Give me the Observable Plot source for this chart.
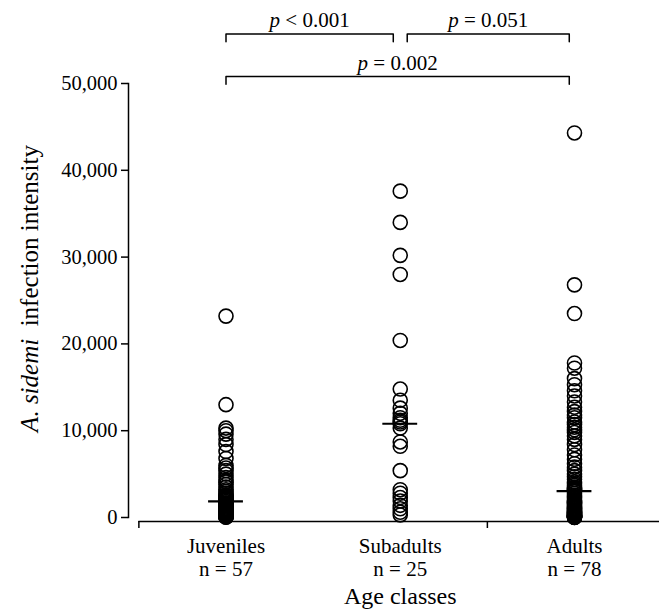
<!DOCTYPE html>
<html><head><meta charset="utf-8">
<script src="https://cdn.jsdelivr.net/npm/d3@7"></script>
<script src="https://cdn.jsdelivr.net/npm/@observablehq/plot@0.6"></script>
<style>body{margin:0;background:#fff;} svg{display:block}</style>
</head><body><div id="chart"></div>
<script>
const categories = ["Juveniles", "Subadults", "Adults"];
const categoryPositions = [1, 2, 3];
const juveniles = [23200, 13000, 10300, 10000, 9600, 9000, 8400, 7600, 6800, 6000, 5700, 5400, 5000, 4600, 4300, 4100, 3800, 3500, 3200, 3000, 2800, 2600, 2500, 2400, 2300, 2200, 2100, 2000, 1850,
  1700, 1600, 1500, 1400, 1300, 1200, 1100, 1000, 900, 800, 750, 700, 600, 550, 500, 450, 400, 350, 300, 250, 200, 180, 150, 120, 100, 80, 50, 30];
const subadults = [37600, 34000, 30200, 28000, 20400, 14800, 13500, 12600, 12000, 11500, 11200, 11000, 10800,
  10300, 8700, 8200, 5400, 3200, 2800, 2300, 1900, 1400, 1000, 600, 300];
const adults = [44300, 26800, 23500, 17800, 17200, 16000, 15300, 14600, 14000, 13300, 12700, 12200, 11800, 11500, 11000, 10700, 10400, 10100, 9800, 9400, 9000, 8400, 7800, 7200, 6700, 6200, 5800, 5400, 5000, 4700, 4400, 4100, 3900, 3700, 3500, 3400, 3300, 3200, 3100,
  3000, 2800, 2600, 2400, 2200, 2000, 1900, 1800, 1700, 1600, 1500, 1400, 1300, 1200, 1100, 1000, 900, 800, 700, 650, 600, 550, 500, 450, 400, 350, 300, 260, 220, 190, 160, 130, 110, 90, 70, 50, 30, 20, 10];
const yTicks = [0, 10000, 20000, 30000, 40000, 50000];
const xAxisBreaks = [0.5, 2.5];
const bracketFrom = [1, 2.04, 1];
const bracketTo = [1.96, 2.97, 2.97];
const bracketLevel = [55700, 55700, 50800];
const bracketLabels = ["p < 0.001", "p = 0.051", "p = 0.002"];
const yLabelItalic = "A. sidemi";
const yLabelRest = "\u00a0 infection intensity";
const xTitle = "Age classes";

const series = [juveniles, subadults, adults];
const points = series.flatMap((vals, i) => vals.map(v => ({pos: categoryPositions[i], value: v})));
const medians = series.map((vals, i) => ({pos: categoryPositions[i], median: d3.median(vals)}));
const catLabels = categories.map((c, i) => ({pos: categoryPositions[i], label: `${c}\nn = ${series[i].length}`}));
const drop = 900;
const brackets = bracketFrom.map((f, i) => ({i, from: f, to: bracketTo[i], level: bracketLevel[i], label: bracketLabels[i]}));
const bracketPath = brackets.flatMap(b => [
  {i: b.i, x: b.from, y: b.level - drop},
  {i: b.i, x: b.from, y: b.level},
  {i: b.i, x: b.to, y: b.level},
  {i: b.i, x: b.to, y: b.level - drop}
]);

const serif = "'Liberation Serif', 'Times New Roman', serif";
const plot = Plot.plot({
  width: 659, height: 609,
  marginLeft: 128, marginRight: 0, marginTop: 83, marginBottom: 88,
  style: {fontFamily: serif, background: "#fff", color: "#000", overflow: "hidden"},
  x: {type: "linear", domain: [1, 3], range: [225.5, 574], label: null},
  y: {domain: [0, 50000], range: [517, 83], label: null},
  marks: [
    Plot.frame({anchor: "left", insetBottom: 4, strokeWidth: 1.5}),
    Plot.axisY({ticks: yTicks, tickFormat: d3.format(","), tickSize: 7, tickPadding: 4, fontSize: 20.5, strokeWidth: 1.5, label: null}),
    Plot.ruleY([0], {x1: 0.5, x2: 4.5, dy: 4, strokeWidth: 1.5}),
    Plot.axisX({ticks: xAxisBreaks, tickFormat: () => "", tickSize: 7, strokeWidth: 1.5, label: null}),
    Plot.text(catLabels, {x: "pos", text: "label", frameAnchor: "bottom", lineAnchor: "top", dy: 16, fontSize: 21, lineHeight: 1.07}),
    Plot.text([xTitle], {x: [d3.mean(categoryPositions)], frameAnchor: "bottom", lineAnchor: "top", dy: 65, fontSize: 24}),
    Plot.text([yLabelItalic + yLabelRest], {frameAnchor: "left", textAnchor: "middle", rotate: -90, dx: -99, dy: -14, fontSize: 25, className: "ylab"}),
    Plot.dot(points, {x: "pos", y: "value", r: 7, stroke: "#000", strokeWidth: 1.6, fill: "none"}),
    Plot.ruleY(medians, {y: "median", x1: d => d.pos - 0.1, x2: d => d.pos + 0.1, strokeWidth: 2.2}),
    Plot.line(bracketPath, {x: "x", y: "y", z: "i", strokeWidth: 1.5}),
    Plot.text(brackets, {x: d => (d.from + d.to) / 2, y: "level", text: "label", lineAnchor: "bottom", dy: -7, fontSize: 21, className: "pval"})
  ]
});
document.getElementById("chart").append(plot);

const ns = "http://www.w3.org/2000/svg";
function italicize(cls, italicPart) {
  plot.querySelectorAll(`.${cls} text`).forEach(t => {
    const s = t.textContent;
    if (!s.startsWith(italicPart)) return;
    t.textContent = "";
    const a = document.createElementNS(ns, "tspan");
    a.setAttribute("font-style", "italic");
    a.textContent = italicPart;
    const b = document.createElementNS(ns, "tspan");
    b.textContent = s.slice(italicPart.length);
    t.append(a, b);
  });
}
italicize("ylab", yLabelItalic);
italicize("pval", "p");
</script></body></html>
